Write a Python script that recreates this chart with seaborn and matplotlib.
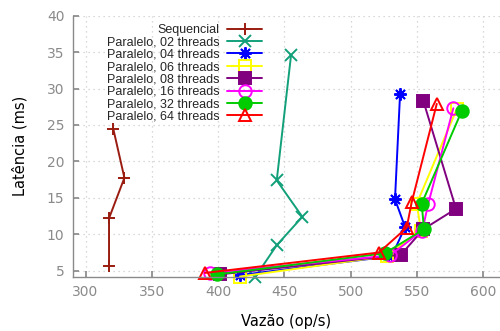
import matplotlib
matplotlib.use("Agg")
import matplotlib.pyplot as plt
import seaborn as sns
import numpy as np

# ---- data ----
labels = ["Sequencial", "Paralelo, 02 threads", "Paralelo, 04 threads",
          "Paralelo, 06 threads", "Paralelo, 08 threads", "Paralelo, 16 threads",
          "Paralelo, 32 threads", "Paralelo, 64 threads"]

seq_x = [317.7, 317.7, 329.3, 321.0]
seq_y = [5.66, 12.2, 17.75, 24.4]

t02_x = [427.8, 444.2, 463.5, 444.2, 455.0]
t02_y = [4.1, 8.5, 12.4, 17.4, 34.6]

t04_x = [416.5, 531.0, 541.0, 533.4, 537.2]
t04_y = [4.4, 7.0, 11.0, 14.8, 29.2]

t06_x = [416.5, 527.0, 553.0, 549.8, 580.0]
t06_y = [4.2, 7.0, 10.5, 14.2, 27.2]

t08_x = [401.4, 537.9, 554.8, 579.4, 554.8]
t08_y = [4.5, 7.2, 10.7, 13.5, 28.3]

t16_x = [393.9, 529.6, 554.0, 558.5, 577.4]
t16_y = [4.7, 7.1, 10.5, 14.2, 27.3]

t32_x = [399.4, 525.8, 555.3, 553.5, 583.7]
t32_y = [4.5, 7.4, 10.7, 14.2, 26.9]

t64_x = [390.1, 521.3, 542.2, 546.0, 564.9]
t64_y = [4.7, 7.5, 10.9, 14.4, 27.9]

xs = [seq_x, t02_x, t04_x, t06_x, t08_x, t16_x, t32_x, t64_x]
ys = [seq_y, t02_y, t04_y, t06_y, t08_y, t16_y, t32_y, t64_y]

x_ticks = [300, 350, 400, 450, 500, 550, 600]
y_ticks = [5, 10, 15, 20, 25, 30, 35, 40]

# ---- style ----
colors = ["#9a1c10", "#12a07a", "#0000ff", "#ffff00", "#800080",
          "#ff00ff", "#00cc00", "#ff0000"]
markers = ["+", "x", (8, 2, 0), "s", "s", "o", "o", "^"]
filled = [True, True, True, False, True, False, True, False]
msizes = [9, 8, 9, 9, 9, 9, 9, 9]

sns.set_theme(style="white")
plt.rcParams["font.family"] = ["DejaVu Sans"]

fig = plt.figure(figsize=(5.0, 3.31), dpi=100)
ax = fig.add_axes([72.7 / 500, 1 - 276.7 / 331, 1 - 72.7 / 500, (276.7 - 15.7) / 331])

for lab, x, y, c, m, f, ms in zip(labels, xs, ys, colors, markers, filled, msizes):
    sns.lineplot(x=x, y=y, sort=False, estimator=None, ax=ax, label=lab,
                 color=c, marker=m, markersize=ms, linewidth=1.4,
                 markeredgecolor=c, markeredgewidth=1.4,
                 markerfacecolor=(c if f else "none"), clip_on=False)

ax.set_xlim(290.3, 612.6)
ax.set_ylim(4.18, 40)
ax.set_xticks(x_ticks)
ax.set_yticks(y_ticks)

grid_c = "#cccccc"
ax.grid(True, color=grid_c, linestyle=(0, (1, 3)), linewidth=0.9)
for s in ["top", "right"]:
    ax.spines[s].set_visible(False)
for s in ["left", "bottom"]:
    ax.spines[s].set_color("#8a8a8a")
    ax.spines[s].set_linewidth(1.0)
ax.tick_params(direction="in", length=4, color="#8a8a8a", labelcolor="#8a8a8a",
               labelsize=10, bottom=True, left=True, pad=6)

ax.set_xlabel("Vazão (op/s)", fontsize=10.5, color="black", labelpad=11)
ax.set_ylabel("Latência (ms)", fontsize=10.5, color="black", labelpad=14)

leg = ax.legend(loc="upper right", bbox_to_anchor=(262 / 500, 1 - 24 / 331),
                bbox_transform=fig.transFigure, frameon=False, markerfirst=False,
                prop={"family": "Liberation Sans", "size": 9},
                handlelength=2.8, handletextpad=0.6, labelspacing=0.03,
                borderpad=0, borderaxespad=0)

fig.savefig("out.png", dpi=100)
